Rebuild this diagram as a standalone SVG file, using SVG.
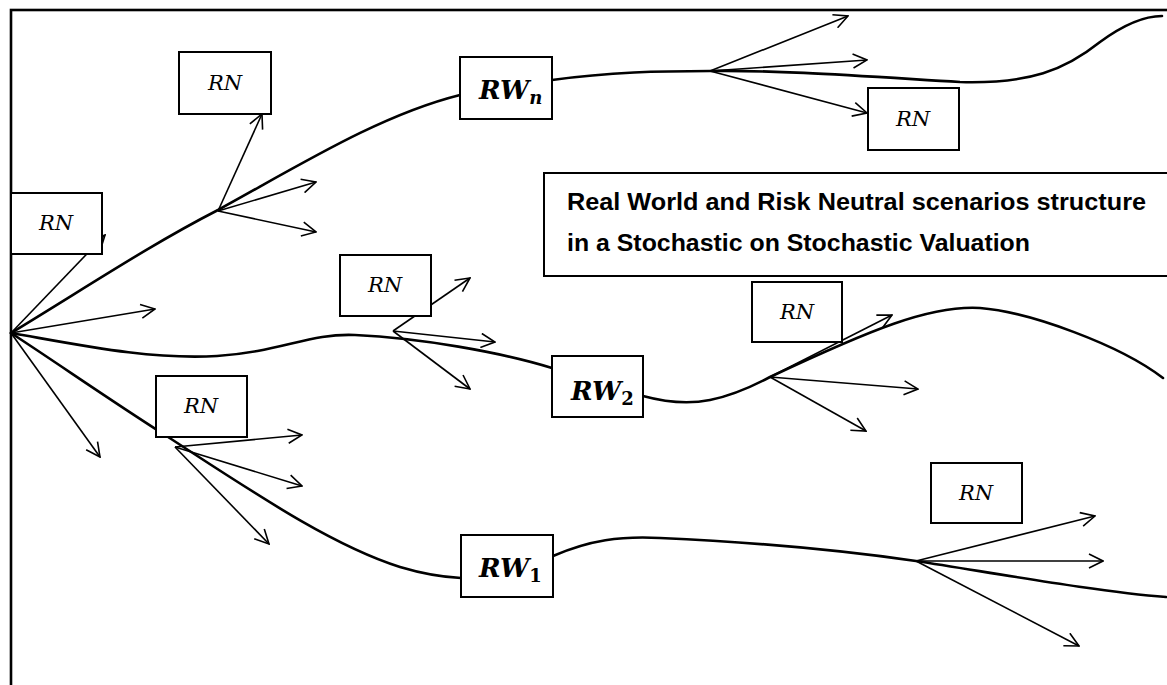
<svg xmlns="http://www.w3.org/2000/svg" width="1167" height="685" viewBox="0 0 1167 685">
<defs>
<marker id="ah" viewBox="0 0 16 16" refX="15" refY="8" markerWidth="16" markerHeight="16" markerUnits="userSpaceOnUse" orient="auto">
<path d="M1,1 L15,8 L1,15" fill="none" stroke="#000" stroke-width="1.6"/>
</marker>
</defs>
<style>
.frame{fill:none;stroke:#000;stroke-width:2.6}
.rw{fill:none;stroke:#000;stroke-width:2.6;stroke-linecap:round}
.ar{fill:none;stroke:#000;stroke-width:1.6;marker-end:url(#ah)}
.box{fill:#fff;stroke:#000;stroke-width:2}
.rn{font-family:"DejaVu Serif","Liberation Serif",serif;font-style:italic;font-size:21px;text-anchor:middle}
.rwt{font-family:"DejaVu Serif","Liberation Serif",serif;font-style:italic;font-weight:bold;font-size:26px}
.title{font-family:"Liberation Sans",Arial,sans-serif;font-weight:bold;font-size:23px}
</style>
<rect width="1167" height="685" fill="#fff"/>
<rect class="frame" x="11" y="10" width="1170" height="690"/>
<g id="connectors">
<path class="rw" d="M11,333 C90,285 150,245 218,210 C300,165 380,115 460,95"/>
<path class="rw" d="M552,80 C610,72 660,71 710,71 C780,70 860,76 960,82 C1030,84 1065,70 1100,42 C1130,20 1150,16 1162,16"/>
<path class="rw" d="M11,333 C80,345 150,360 217,356 C280,352 310,333 355,335 C420,338 500,352 552,368"/>
<path class="rw" d="M643,396 C665,402 690,404 710,400 C735,395 755,385 770,377 C870,330 930,305 980,308 C1030,312 1120,345 1163,378"/>
<path class="rw" d="M11,333 C60,365 110,400 165,435 C250,490 330,545 400,567 C420,573 440,577 461,578"/>
<path class="rw" d="M553,556 C590,540 620,536 660,538 C750,542 840,550 916,561 C1000,574 1100,592 1166,597"/>
<line class="ar" x1="11" y1="333" x2="105" y2="235"/>
<line class="ar" x1="11" y1="333" x2="155" y2="309"/>
<line class="ar" x1="11" y1="333" x2="100" y2="457"/>
<line class="ar" x1="218" y1="211" x2="262" y2="114"/>
<line class="ar" x1="218" y1="211" x2="316" y2="182"/>
<line class="ar" x1="218" y1="211" x2="316" y2="232"/>
<line class="ar" x1="710" y1="71" x2="848" y2="16"/>
<line class="ar" x1="710" y1="71" x2="867" y2="60"/>
<line class="ar" x1="710" y1="71" x2="867" y2="113"/>
<line class="ar" x1="393" y1="331" x2="470" y2="278"/>
<line class="ar" x1="393" y1="331" x2="495" y2="342"/>
<line class="ar" x1="393" y1="331" x2="470" y2="389"/>
<line class="ar" x1="770" y1="377" x2="892" y2="315"/>
<line class="ar" x1="770" y1="377" x2="918" y2="389"/>
<line class="ar" x1="770" y1="377" x2="866" y2="431"/>
<line class="ar" x1="175" y1="447" x2="302" y2="435"/>
<line class="ar" x1="175" y1="447" x2="302" y2="486"/>
<line class="ar" x1="175" y1="447" x2="269" y2="544"/>
<line class="ar" x1="916" y1="561" x2="1095" y2="516"/>
<line class="ar" x1="916" y1="561" x2="1103" y2="561"/>
<line class="ar" x1="916" y1="561" x2="1079" y2="646"/>
</g>
<g id="rn-origin"><rect class="box" x="11" y="193" width="91" height="61"/><text class="rn" x="56" y="230">RN</text></g>
<g id="rn-top"><rect class="box" x="179" y="52" width="92" height="62"/><text class="rn" x="225" y="90">RN</text></g>
<g id="rwn"><rect class="box" x="460" y="57" width="92" height="62"/><text class="rwt" x="479" y="99">RW<tspan font-size="18" dy="5">n</tspan></text></g>
<g id="rn-topright"><rect class="box" x="868" y="88" width="91" height="62"/><text class="rn" x="913" y="126">RN</text></g>
<g id="title"><rect class="box" x="544" y="173" width="640" height="103"/>
<text class="title" x="567" y="210" textLength="579" lengthAdjust="spacingAndGlyphs">Real World and Risk Neutral scenarios structure</text>
<text class="title" x="567" y="251" textLength="463" lengthAdjust="spacingAndGlyphs">in a Stochastic on Stochastic Valuation</text></g>
<g id="rn-mid"><rect class="box" x="340" y="255" width="91" height="61"/><text class="rn" x="385" y="292">RN</text></g>
<g id="rw2"><rect class="box" x="552" y="356" width="91" height="61"/><text class="rwt" x="571" y="400">RW<tspan font-size="18" font-style="normal" dy="5">2</tspan></text></g>
<g id="rn-midright"><rect class="box" x="752" y="282" width="90" height="60"/><text class="rn" x="797" y="319">RN</text></g>
<g id="rn-low"><rect class="box" x="156" y="376" width="91" height="61"/><text class="rn" x="201" y="413">RN</text></g>
<g id="rw1"><rect class="box" x="461" y="535" width="92" height="62"/><text class="rwt" x="479" y="577">RW<tspan font-size="18" font-style="normal" dy="5">1</tspan></text></g>
<g id="rn-lowright"><rect class="box" x="931" y="463" width="91" height="60"/><text class="rn" x="976" y="500">RN</text></g>
</svg>
